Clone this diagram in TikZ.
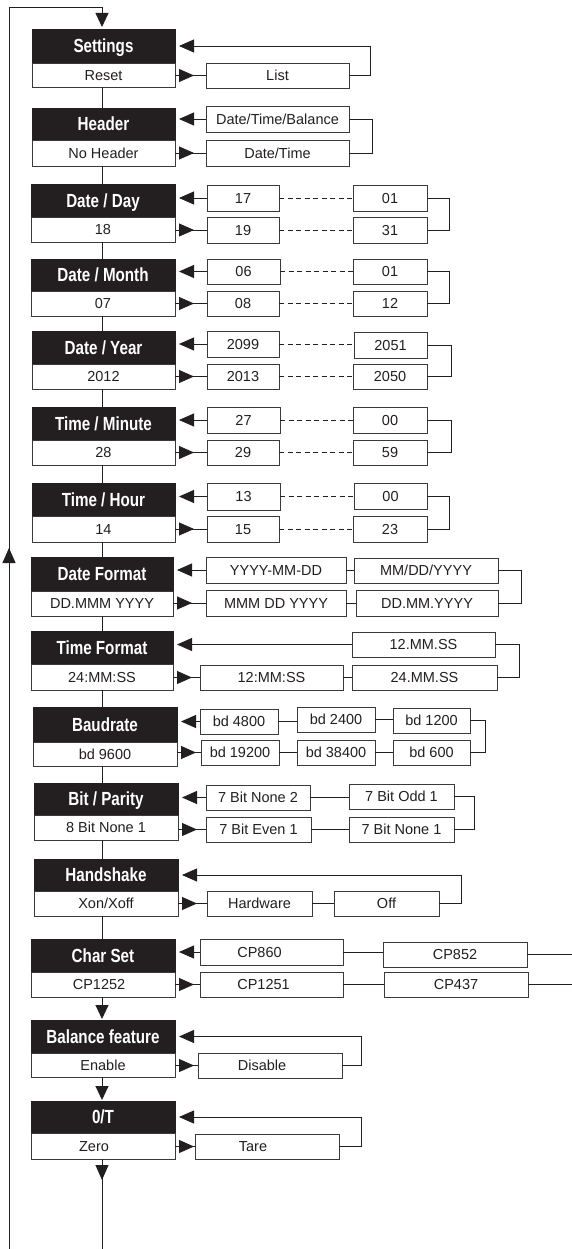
\documentclass[tikz,border=0pt]{standalone}
\usepackage{fontspec}
\setmainfont{Liberation Sans}
\usepackage{graphicx}
\usetikzlibrary{arrows.meta,decorations.markings,calc}
\definecolor{ink}{HTML}{231F20}
\definecolor{bordc}{HTML}{3A3A3A}
\newcommand\hdrtxt[1]{\scalebox{0.8}[1]{\bfseries #1}}
\newcommand\shl[2]{\hspace*{-#1}#2}
\newcommand\mkbox[7]{\node[#6, minimum width={(#4-#2)*1pt}, minimum height={(#5-#3)*1pt}] (#1) at ({(#2+#4)/2},{(#3+#5)/2}) {#7};}
\tikzset{
  blk/.style={fill=ink, draw=ink, line width=0.9pt, inner sep=0pt, outer sep=0pt, text=white,
    font=\fontsize{19}{22}\selectfont, text height=13.6pt, text depth=0pt},
  wht/.style={fill=white, draw=bordc, line width=0.9pt, inner sep=0pt, outer sep=0pt, text=ink,
    font=\fontsize{14.5}{17}\selectfont, text height=10.4pt, text depth=0pt},
  ln/.style={draw=ink, line width=0.9pt},
  larr/.style={ln, -{Triangle[length=15pt,width=13pt]}, shorten >=4pt},
  mk/.style={ln, postaction={decorate}, decoration={markings, mark=at position #1 with {\arrow{Triangle[length=15pt,width=13pt]}}}},
  rarr/.style={mk=19pt},
  darr/.style={ln, -{Triangle[length=14pt,width=13pt]}, shorten >=1pt},
  dsh/.style={ln, dash pattern=on 5pt off 3.5pt},
}
\begin{document}
\begin{tikzpicture}[x=1pt,y=-1pt]
\useasboundingbox (0,0) rectangle (572,1249);
\coordinate (sp) at (102,0);
\coordinate (bl) at (9,1249);
\coordinate (tl) at (9,7);
\coordinate (bot) at (102,1249);
\coordinate (edge) at (572,0);

% main column
\mkbox{h1}{32}{29}{175}{63}{blk}{\hdrtxt{Settings}}
\mkbox{v1}{32}{63}{175}{87}{wht}{Reset}
\mkbox{h2}{32}{108}{175}{140}{blk}{\hdrtxt{Header}}
\mkbox{v2}{32}{140}{175}{166}{wht}{No Header}
\mkbox{h3}{31}{184}{175}{217}{blk}{\hdrtxt{Date / Day}}
\mkbox{v3}{31}{217}{175}{242}{wht}{18}
\mkbox{h4}{31}{259}{175}{291}{blk}{\hdrtxt{Date / Month}}
\mkbox{v4}{31}{291}{175}{316}{wht}{07}
\mkbox{h5}{32}{331}{175}{364}{blk}{\hdrtxt{Date / Year}}
\mkbox{v5}{32}{364}{175}{389}{wht}{2012}
\mkbox{h6}{32}{407}{175}{440}{blk}{\hdrtxt{Time / Minute}}
\mkbox{v6}{32}{440}{175}{465}{wht}{28}
\mkbox{h7}{32}{483}{175}{516}{blk}{\hdrtxt{Time / Hour}}
\mkbox{v7}{32}{516}{175}{542}{wht}{14}
\mkbox{h8}{31}{557}{173}{591}{blk}{\hdrtxt{Date Format}}
\mkbox{v8}{31}{591}{173}{616}{wht}{DD.MMM YYYY}
\mkbox{h9}{31}{631}{173}{664}{blk}{\hdrtxt{Time Format}}
\mkbox{v9}{31}{664}{173}{690}{wht}{24:MM:SS}
\mkbox{h10}{33}{707}{177}{742}{blk}{\hdrtxt{Baudrate}}
\mkbox{v10}{33}{742}{177}{766}{wht}{bd 9600}
\mkbox{h11}{34}{783}{178}{815}{blk}{\hdrtxt{Bit / Parity}}
\mkbox{v11}{34}{815}{178}{840}{wht}{8 Bit None 1}
\mkbox{h12}{34}{859}{178}{891}{blk}{\hdrtxt{Handshake}}
\mkbox{v12}{34}{891}{178}{916}{wht}{Xon/Xoff}
\mkbox{h13}{31}{939}{175}{972}{blk}{\hdrtxt{Char Set}}
\mkbox{v13}{31}{972}{175}{997}{wht}{\shl{8pt}{CP1252}}
\mkbox{h14}{31}{1020}{175}{1053}{blk}{\hdrtxt{Balance feature}}
\mkbox{v14}{31}{1053}{175}{1077}{wht}{Enable}
\mkbox{h15}{31}{1101}{175}{1133}{blk}{\hdrtxt{0/T}}
\mkbox{v15}{31}{1133}{175}{1159}{wht}{\shl{18pt}{Zero}}

% option boxes
\mkbox{list}{206}{63}{349}{88}{wht}{List}
\mkbox{dtb}{206}{106}{349}{132}{wht}{Date/Time/Balance}
\mkbox{dt}{206}{140}{349}{166}{wht}{Date/Time}

\mkbox{d1}{207}{185}{279}{211}{wht}{17}
\mkbox{d2}{353}{185}{427}{211}{wht}{01}
\mkbox{d3}{207}{217}{279}{243}{wht}{19}
\mkbox{d4}{353}{217}{427}{243}{wht}{31}

\mkbox{m1}{207}{259}{280}{284}{wht}{06}
\mkbox{m2}{353}{259}{427}{284}{wht}{01}
\mkbox{m3}{207}{291}{279}{316}{wht}{08}
\mkbox{m4}{353}{291}{427}{316}{wht}{12}

\mkbox{y1}{207}{331}{279}{357}{wht}{2099}
\mkbox{y2}{354}{332}{427}{358}{wht}{2051}
\mkbox{y3}{207}{364}{279}{389}{wht}{2013}
\mkbox{y4}{353}{364}{427}{389}{wht}{2050}

\mkbox{n1}{207}{407}{280}{433}{wht}{27}
\mkbox{n2}{353}{407}{427}{433}{wht}{00}
\mkbox{n3}{207}{440}{279}{465}{wht}{29}
\mkbox{n4}{353}{440}{427}{465}{wht}{59}

\mkbox{o1}{207}{483}{280}{510}{wht}{13}
\mkbox{o2}{354}{483}{427}{509}{wht}{00}
\mkbox{o3}{207}{516}{279}{542}{wht}{15}
\mkbox{o4}{353}{516}{427}{542}{wht}{23}

\mkbox{f1}{206}{557}{346}{583}{wht}{YYYY-MM-DD}
\mkbox{f2}{354}{558}{498}{583}{wht}{MM/DD/YYYY}
\mkbox{f3}{206}{590}{346}{616}{wht}{MMM DD YYYY}
\mkbox{f4}{356}{590}{498}{616}{wht}{DD.MM.YYYY}

\mkbox{t1}{352}{632}{495}{657}{wht}{12.MM.SS}
\mkbox{t2}{200}{665}{343}{690}{wht}{12:MM:SS}
\mkbox{t3}{352}{665}{497}{690}{wht}{24.MM.SS}

\mkbox{b1}{200}{709}{278}{734}{wht}{bd 4800}
\mkbox{b2}{297}{707}{375}{732}{wht}{bd 2400}
\mkbox{b3}{393}{708}{470}{733}{wht}{bd 1200}
\mkbox{b4}{201}{740}{279}{765}{wht}{bd 19200}
\mkbox{b5}{297}{740}{375}{765}{wht}{bd 38400}
\mkbox{b6}{393}{740}{470}{765}{wht}{bd 600}

\mkbox{p1}{206}{785}{310}{810}{wht}{7 Bit None 2}
\mkbox{p2}{349}{784}{454}{809}{wht}{7 Bit Odd 1}
\mkbox{p3}{206}{817}{311}{842}{wht}{7 Bit Even 1}
\mkbox{p4}{349}{817}{454}{842}{wht}{7 Bit None 1}

\mkbox{k1}{207}{891}{312}{916}{wht}{Hardware}
\mkbox{k2}{334}{891}{439}{916}{wht}{Off}

\mkbox{c1}{200}{939}{343}{965}{wht}{\shl{24pt}{CP860}}
\mkbox{c2}{383}{942}{527}{967}{wht}{CP852}
\mkbox{c3}{200}{972}{343}{997}{wht}{\shl{16pt}{CP1251}}
\mkbox{c4}{384}{972}{528}{997}{wht}{CP437}

\mkbox{e1}{198}{1053}{342}{1078}{wht}{\shl{16pt}{Disable}}
\mkbox{r1}{195}{1134}{339}{1159}{wht}{\shl{28pt}{Tare}}

% spine
\draw[ln] (v1.south -| sp) -- (h2.north -| sp);
\draw[ln] (v2.south -| sp) -- (h3.north -| sp);
\draw[ln] (v3.south -| sp) -- (h4.north -| sp);
\draw[ln] (v4.south -| sp) -- (h5.north -| sp);
\draw[ln] (v5.south -| sp) -- (h6.north -| sp);
\draw[ln] (v6.south -| sp) -- (h7.north -| sp);
\draw[ln] (v7.south -| sp) -- (h8.north -| sp);
\draw[ln] (v8.south -| sp) -- (h9.north -| sp);
\draw[ln] (v9.south -| sp) -- (h10.north -| sp);
\draw[ln] (v10.south -| sp) -- (h11.north -| sp);
\draw[ln] (v11.south -| sp) -- (h12.north -| sp);
\draw[ln] (v12.south -| sp) -- (h13.north -| sp);
\draw[darr] (v13.south -| sp) -- (h14.north -| sp);
\draw[darr] (v14.south -| sp) -- (h15.north -| sp);
\draw[mk=21pt] (v15.south -| sp) -- (bot);

% outer return loop
\draw[mk=701pt] (bl) -- (tl);
\draw[darr, shorten >=2pt] (tl) -| (h1.north -| sp);

% Settings
\draw[rarr] (v1.east |- list.west) -- (list.west);
\draw[larr] (list.east) -- ++(21,0) |- (h1.east);
% Header
\draw[larr] (dtb.west) -- (dtb.west -| h2.east);
\draw[rarr] (v2.east |- dt.west) -- (dt.west);
\draw[ln] (dtb.east) -- ++(23,0) |- (dt.east);

% numeric rows
\foreach \a/\b/\c/\d/\h/\v/\g in {d1/d2/d3/d4/h3/v3/22, m1/m2/m3/m4/h4/v4/22, y1/y2/y3/y4/h5/v5/24, n1/n2/n3/n4/h6/v6/24, o1/o2/o3/o4/h7/v7/22}{
  \draw[larr] (\a.west) -- (\a.west -| \h.east);
  \draw[rarr] (\v.east |- \c.west) -- (\c.west);
  \draw[dsh] (\a.east) -- (\a.east -| \b.west);
  \draw[dsh] (\c.east) -- (\c.east -| \d.west);
  \draw[ln] (\b.east) -- ++(\g,0) |- (\d.east);
}

% Date Format
\draw[larr] (f1.west) -- (f1.west -| h8.east);
\draw[rarr] (v8.east |- f3.west) -- (f3.west);
\draw[ln] (f1.east) -- (f1.east -| f2.west);
\draw[ln] (f3.east) -- (f3.east -| f4.west);
\draw[ln] (f2.east) -- ++(23,0) |- (f4.east);

% Time Format
\draw[larr] (t1.west) -- (t1.west -| h9.east);
\draw[rarr] (v9.east |- t2.west) -- (t2.west);
\draw[ln] (t2.east) -- (t2.east -| t3.west);
\draw[ln] (t1.east) -- ++(24,0) |- (t3.east);

% Baudrate
\draw[larr] (b1.west) -- (b1.west -| h10.east);
\draw[rarr] (v10.east |- b4.west) -- (b4.west);
\draw[ln] (b1.east) -- (b1.east -| b2.west);
\draw[ln] (b2.east) -- (b2.east -| b3.west);
\draw[ln] (b4.east) -- (b4.east -| b5.west);
\draw[ln] (b5.east) -- (b5.east -| b6.west);
\draw[ln] (b3.east) -- ++(15,0) |- (b6.east);

% Bit / Parity
\draw[larr] (p1.west) -- (p1.west -| h11.east);
\draw[rarr] (v11.east |- p3.west) -- (p3.west);
\draw[ln] (p1.east) -- (p1.east -| p2.west);
\draw[ln] (p3.east) -- (p3.east -| p4.west);
\draw[ln] (p2.east) -- ++(20,0) |- (p4.east);

% Handshake
\draw[rarr] (v12.east |- k1.west) -- (k1.west);
\draw[ln] (k1.east) -- (k1.east -| k2.west);
\draw[larr] (k2.east) -- ++(22,0) |- (h12.east);

% Char Set
\draw[larr] (c1.west) -- (c1.west -| h13.east);
\draw[rarr] (v13.east |- c3.west) -- (c3.west);
\draw[ln] (c1.east) -- (c1.east -| c2.west);
\draw[ln] (c3.east) -- (c3.east -| c4.west);
\draw[ln] (c2.east) -- (c2.east -| edge);
\draw[ln] (c4.east) -- (c4.east -| edge);

% Balance feature
\draw[rarr] (v14.east |- e1.west) -- (e1.west);
\draw[larr] (e1.east) -- ++(19,0) |- (h14.east);

% O/T
\draw[rarr] (v15.east |- r1.west) -- (r1.west);
\draw[larr] (r1.east) -- ++(22,0) |- (h15.east);
\end{tikzpicture}
\end{document}
